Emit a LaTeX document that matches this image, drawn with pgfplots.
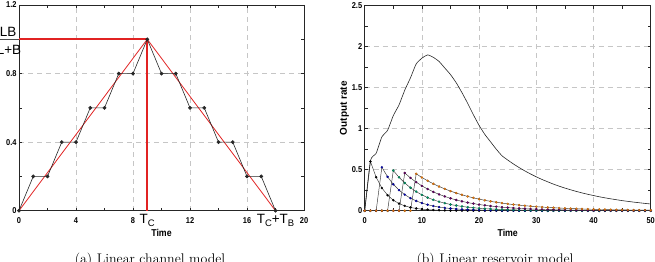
\documentclass[border=0pt]{standalone}
\usepackage{pgfplots}
\pgfplotsset{compat=1.18}
\usepackage{pgfplotstable}
\usepackage{fontspec}
\newfontfamily\arial{Liberation Sans}
\newfontfamily\arialn[FakeStretch=0.88]{Liberation Sans}
\definecolor{guide}{RGB}{225,35,35}

% Linear reservoir: total outflow and the responses to the individual inflow pulses
\pgfplotstableread{
t total c1 c2 c3 c4 c5
0 0 0 0 0 0 0
1 0.61 0.60 0 0 0 0
2 0.70 0.408 0 0 0 0
3 0.90 0.277 0.53 0 0 0
4 0.98 0.189 0.413 0 0 0
5 1.16 0.128 0.322 0.49 0 0
6 1.29 0.087 0.251 0.407 0 0
7 1.47 0.059 0.196 0.338 0.46 0
8 1.62 0.040 0.153 0.280 0.400 0
9 1.79 0.027 0.119 0.233 0.348 0.45
10 1.86 0.019 0.093 0.193 0.303 0.405
11 1.90 0.013 0.073 0.160 0.264 0.365
12 1.87 0.009 0.057 0.133 0.229 0.328
13 1.82 0.006 0.044 0.110 0.199 0.295
14 1.74 0.004 0.034 0.092 0.174 0.266
15 1.66 0.003 0.027 0.076 0.151 0.239
16 1.56 0.002 0.021 0.063 0.131 0.215
17 1.44 0.001 0.016 0.052 0.114 0.194
18 1.31 0.001 0.013 0.043 0.099 0.174
19 1.17 0 0.010 0.036 0.087 0.157
20 1.04 0 0.008 0.030 0.075 0.141
21 0.93 0 0.006 0.025 0.066 0.127
22 0.84 0 0.005 0.021 0.057 0.114
23 0.75 0 0.004 0.017 0.050 0.103
24 0.67 0 0.003 0.014 0.043 0.093
25 0.618 0 0.002 0.012 0.038 0.083
26 0.570 0 0.002 0.010 0.033 0.075
27 0.526 0 0.001 0.008 0.028 0.068
28 0.485 0 0.001 0.007 0.025 0.061
29 0.448 0 0.001 0.006 0.021 0.055
30 0.413 0 0 0.005 0.019 0.049
31 0.381 0 0 0.004 0.016 0.044
32 0.352 0 0 0.003 0.014 0.040
33 0.324 0 0 0.003 0.012 0.036
34 0.299 0 0 0.002 0.011 0.032
35 0.276 0 0 0.002 0.009 0.029
36 0.255 0 0 0.002 0.008 0.026
37 0.235 0 0 0.001 0.007 0.024
38 0.217 0 0 0.001 0.006 0.021
39 0.200 0 0 0.001 0.005 0.019
40 0.185 0 0 0.001 0.005 0.017
41 0.170 0 0 0 0.004 0.015
42 0.157 0 0 0 0.003 0.014
43 0.145 0 0 0 0.003 0.012
44 0.134 0 0 0 0.003 0.011
45 0.123 0 0 0 0.002 0.010
46 0.114 0 0 0 0.002 0.009
47 0.105 0 0 0 0.002 0.008
48 0.097 0 0 0 0.001 0.007
49 0.089 0 0 0 0.001 0.007
50 0.082 0 0 0 0.001 0.006
}\reservoir

\pgfplotsset{
  panel/.style={
    scale only axis,
    anchor=south west,
    tick align=inside,
    major tick length=3bp,
    minor tick length=3bp,
    axis line style={black!85, line width=0.7bp},
    every tick/.style={black!85, line width=0.5bp},
    grid=major,
    major grid style={gray!45, line width=0.6bp, dash pattern=on 5bp off 4bp},
    /pgf/number format/assume math mode=true,
    tick label style={font=\arialn\bfseries\fontsize{8.5}{9}\selectfont},
    xticklabel style={yshift=-3bp},
    yticklabel style={xshift=1bp},
    label style={font=\arialn\bfseries\fontsize{10}{11}\selectfont},
    xlabel style={yshift=1bp},
    clip=false,
  },
  comp/.style={black!80, line width=0.45bp, mark=*, mark size=1.1bp,
    mark options={fill=#1, draw=#1!70!black, line width=0.3bp}},
}

\begin{document}
\begin{tikzpicture}[x=1bp,y=1bp]
\path[use as bounding box] (0,0) rectangle (655,261);

% (a) Linear channel model
\begin{axis}[panel,
  at={(19bp,50.3bp)}, width=285bp, height=205.7bp,
  xmin=0, xmax=20, ymin=0, ymax=1.2,
  xtick={0,4,8,12,16,20}, minor xtick={2,6,10,14,18},
  ytick={0,0.4,0.8,1.2}, minor ytick={0.2,0.6,1.0},
  xlabel={Time},
]
% peak level and time to peak
\addplot[guide, line width=1.6bp, mark=none] coordinates {(0,1) (9,1)};
\addplot[guide, line width=1.6bp, mark=none] coordinates {(9,1) (9,0)};
\addplot[guide, line width=0.8bp] coordinates {(0,0) (9,1) (18,0)};
\addplot[black!85, line width=0.6bp, mark=*, mark size=1.6bp] coordinates {
(0,0) (1,0.2) (2,0.2) (3,0.4) (4,0.4) (5,0.6) (6,0.6) (7,0.8) (8,0.8) (9,1.0)
(10,0.8) (11,0.8) (12,0.6) (13,0.6) (14,0.4) (15,0.4) (16,0.2) (17,0.2) (18,0)};
\node[anchor=north, font=\arial\fontsize{13.5}{14}\selectfont, inner sep=0pt]
  at (axis cs:9,0) [yshift=-3.5bp] {T\raisebox{-0.45ex}{\fontsize{9.5}{10}\selectfont C}};
\node[anchor=north, font=\arial\fontsize{13.5}{14}\selectfont, inner sep=0pt]
  at (axis cs:18,0) [yshift=-3.5bp] {T\raisebox{-0.45ex}{\fontsize{9.5}{10}\selectfont C}+T\raisebox{-0.45ex}{\fontsize{9.5}{10}\selectfont B}};
\end{axis}

% peak ordinate LB/(L+B) beside the left axis
\draw[black!70, line width=0.8bp] (0,221.7) -- (19,221.7);
\node[anchor=base, font=\arial\fontsize{13.5}{14}\selectfont, inner sep=0pt] at (8,224.8) {LB};
\node[anchor=base, font=\arial\fontsize{13.5}{14}\selectfont, inner sep=0pt] at (9,206.5) {L+B};

% (b) Linear reservoir model
\begin{axis}[panel,
  at={(364.7bp,50.3bp)}, width=286bp, height=205bp,
  xmin=0, xmax=50, ymin=0, ymax=2.5,
  xtick={0,10,...,50}, minor xtick={5,15,...,45},
  ytick={0,0.5,...,2.5}, minor ytick={0.25,0.75,...,2.25},
  xlabel={Time}, ylabel={Output rate},
  ylabel style={yshift=-4bp, font=\arial\bfseries\fontsize{10}{11}\selectfont},
]
\addplot[comp=black] table[x=t, y=c1] {\reservoir};
\addplot[comp=blue!70!black] table[x=t, y=c2] {\reservoir};
\addplot[comp=teal!80!green] table[x=t, y=c3] {\reservoir};
\addplot[comp=violet!80!black] table[x=t, y=c4] {\reservoir};
\addplot[comp=orange!80!brown] table[x=t, y=c5] {\reservoir};
\addplot[black!85, line width=0.6bp, smooth, tension=0.3] table[x=t, y=total] {\reservoir};
\end{axis}

% sub-captions
\node[anchor=base, font=\fontsize{14}{16}\selectfont, inner sep=0pt] at (150,-2.5) {(a) Linear channel model};
\node[anchor=base, font=\fontsize{14}{16}\selectfont, inner sep=0pt] at (495,-2.5) {(b) Linear reservoir model};
\end{tikzpicture}
\end{document}
